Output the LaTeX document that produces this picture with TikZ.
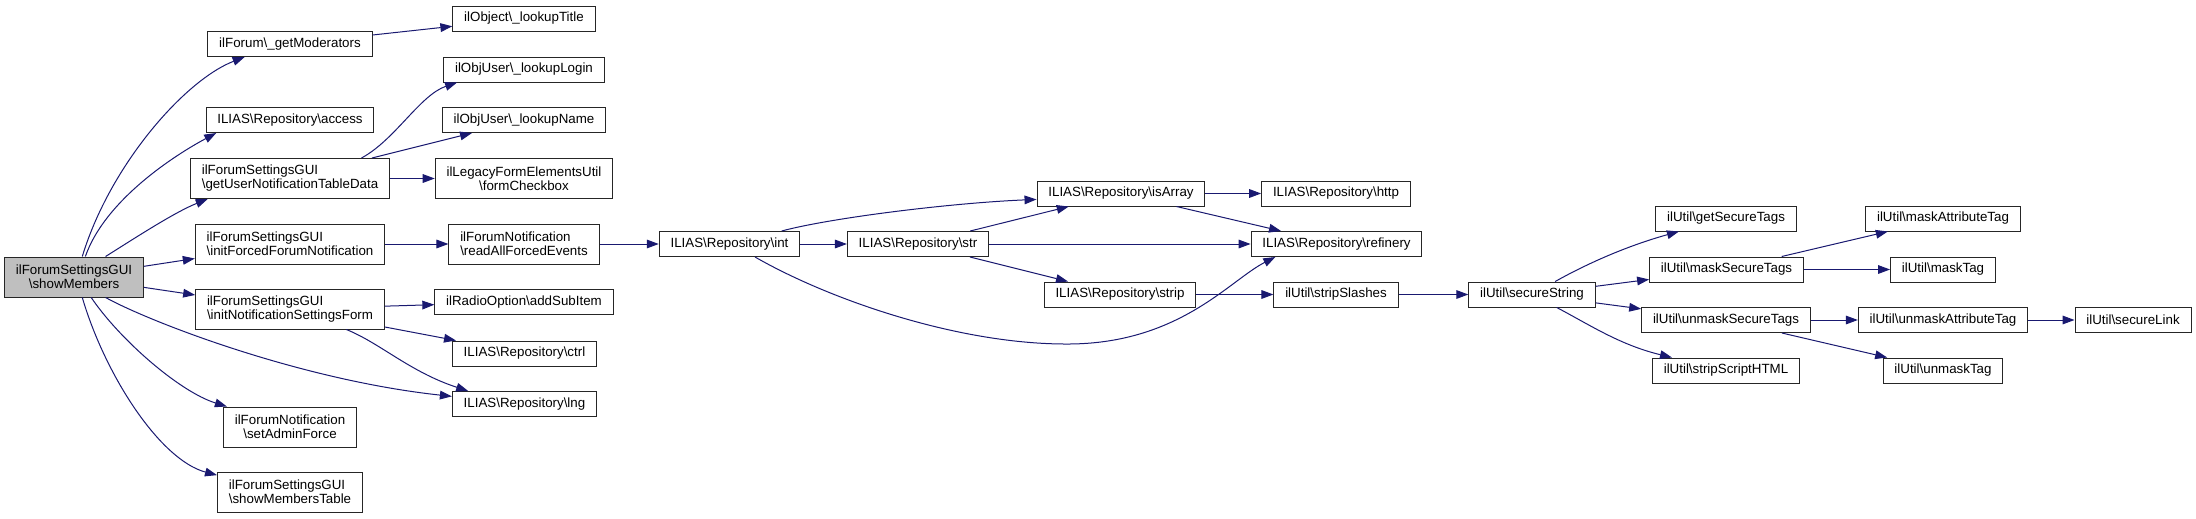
\documentclass[tikz,border=0pt]{standalone}
\usepackage{fontspec}
\setmainfont{Liberation Sans}
\usetikzlibrary{arrows.meta}
\definecolor{edgeblue}{HTML}{191970}
\definecolor{rootgray}{HTML}{BFBFBF}
\newcommand{\bsl}{\textbackslash}

\begin{document}
\begin{tikzpicture}[x=.75pt,y=-.75pt,
    call/.style={draw=edgeblue,line width=.75pt,-{Triangle[length=9pt,width=6.5pt]}}]

        \useasboundingbox (0,0) rectangle (2196,518);

        \begin{scope}[every node/.style={draw=black!85,line width=.75pt,
            font=\fontsize{10}{10.5}\selectfont,inner xsep=8.5pt,inner ysep=2pt,
            minimum height=18.75pt},
            two/.style={minimum height=30pt}]
          \node[fill=rootgray,two,align=center] (1) at (74,277) {ilForumSettingsGUI\\\bsl showMembers};
          \node (2)  at (290,44)    {ilForum\bsl\_getModerators};
          \node (3)  at (290,120)   {ILIAS\bsl Repository\bsl access};
          \node[two,align=left] (4) at (290,178.5) {ilForumSettingsGUI\\\bsl getUserNotificationTableData};
          \node[two,align=left] (5) at (290,244)   {ilForumSettingsGUI\\\bsl initForcedForumNotification};
          \node[two,align=left] (6) at (290,309)   {ilForumSettingsGUI\\\bsl initNotificationSettingsForm};
          \node[two,align=center] (7) at (290,427) {ilForumNotification\\\bsl setAdminForce};
          \node[two,align=left] (8) at (290,492)   {ilForumSettingsGUI\\\bsl showMembersTable};

          \node (9)  at (524,18.5)  {ilObject\bsl\_lookupTitle};
          \node (10) at (524,69.5)  {ilObjUser\bsl\_lookupLogin};
          \node (11) at (524,120)   {ilObjUser\bsl\_lookupName};
          \node[two,align=center] (12) at (524,178.5) {ilLegacyFormElementsUtil\\\bsl formCheckbox};
          \node[two,align=left] (13) at (524,244)     {ilForumNotification\\\bsl readAllForcedEvents};
          \node (14) at (524,302)   {ilRadioOption\bsl addSubItem};
          \node (15) at (524.5,353.5) {ILIAS\bsl Repository\bsl ctrl};
          \node (16) at (524.5,404) {ILIAS\bsl Repository\bsl lng};

          \node (17) at (729.5,244) {ILIAS\bsl Repository\bsl int};
          \node (18) at (918,244)   {ILIAS\bsl Repository\bsl str};
          \node (19) at (1121,193.5) {ILIAS\bsl Repository\bsl isArray};
          \node (20) at (1336,193.5) {ILIAS\bsl Repository\bsl http};
          \node (21) at (1336.5,244) {ILIAS\bsl Repository\bsl refinery};
          \node (22) at (1120,294.5) {ILIAS\bsl Repository\bsl strip};
          \node (23) at (1336,294.5) {ilUtil\bsl stripSlashes};
          \node (24) at (1532,294.5) {ilUtil\bsl secureString};

          \node (25) at (1726,218.5) {ilUtil\bsl getSecureTags};
          \node (26) at (1726.5,269.5) {ilUtil\bsl maskSecureTags};
          \node (27) at (1726,320)   {ilUtil\bsl unmaskSecureTags};
          \node (28) at (1726,370.5) {ilUtil\bsl stripScriptHTML};
          \node (29) at (1943,218.5) {ilUtil\bsl maskAttributeTag};
          \node (30) at (1943,269.5) {ilUtil\bsl maskTag};
          \node (31) at (1943,320)   {ilUtil\bsl unmaskAttributeTag};
          \node (32) at (1943,370.5) {ilUtil\bsl unmaskTag};
          \node (33) at (2133,320)   {ilUtil\bsl secureLink};
        \end{scope}

        \begin{scope}[every edge/.style={call}]
          \path (1)  edge (5)  (1)  edge (6);
          \path (2)  edge (9);
          \path (4)  edge (11) (4)  edge (12);
          \path (5)  edge (13);
          \path (6)  edge (14) (6)  edge (15);
          \path (13) edge (17);
          \path (17) edge (18);
          \path (18) edge (19) (18) edge (21) (18) edge (22);
          \path (19) edge (20) (19) edge (21);
          \path (22) edge (23);
          \path (23) edge (24);
          \path (24) edge (26) (24) edge (27);
          \path (26) edge (29) (26) edge (30);
          \path (27) edge (31) (27) edge (32);
          \path (31) edge (33);
        \end{scope}

        % curved calls
        \draw[call] (1.68) .. controls (110,165) and (185,80) .. (2.196);
        \draw[call] (1.61) .. controls (105,200) and (175,155) .. (3.190);
        \draw[call] (1.33) .. controls (135,238) and (175,212) .. (4.194);
        \draw[call] (1.-33) .. controls (150,322) and (300,380) .. (16.174);
        \draw[call] (1.-50) .. controls (120,340) and (180,392) .. (7.162);
        \draw[call] (1.-68) .. controls (105,375) and (160,460) .. (8.167);
        \draw[call] (4.16) .. controls (395,140) and (420,95) .. (10.191);
        \draw[call] (6.-20) .. controls (380,343) and (410,372) .. (16.167);
        \draw[call] (17.14) .. controls (830,218) and (950,203) .. (19.184);
        \draw[call] (17.-27) .. controls (830,300) and (960,345) .. (1070,344)
          .. controls (1180,343) and (1230,280) .. (21.192);
        \draw[call] (24) .. controls (1590,262) and (1630,245) .. (25);
        \draw[call] (24) .. controls (1590,325) and (1620,345) .. (28);

      \end{tikzpicture}
\end{document}
